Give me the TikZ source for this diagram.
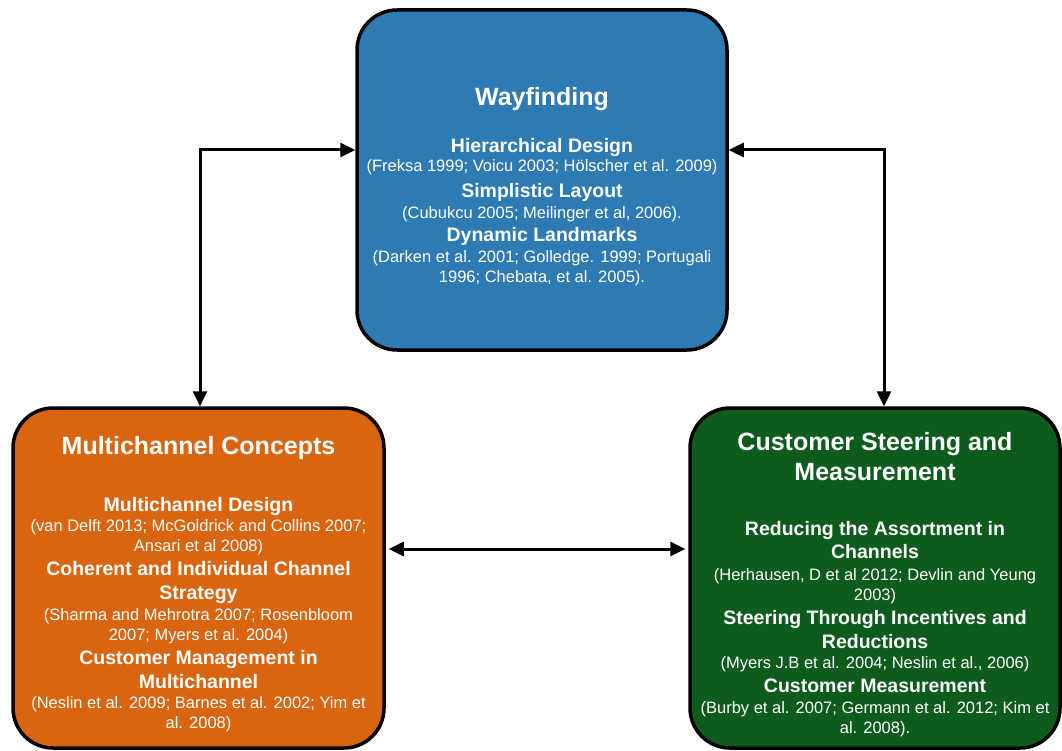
\documentclass[tikz,border=0pt]{standalone}
\usepackage{fontspec}
\setmainfont{Liberation Sans}
\usetikzlibrary{arrows.meta}

\definecolor{wayblue}{RGB}{46,122,179}
\definecolor{multiorange}{RGB}{218,101,16}
\definecolor{steergreen}{RGB}{14,91,30}

\tikzset{
  panel/.style={draw=black, line width=3.5pt, rounded corners=40pt,
    minimum width=370pt, minimum height=340pt, inner sep=0pt},
  ttl/.style={anchor=base, inner sep=0pt, text=white,
    font=\fontsize{25}{30}\selectfont\bfseries},
  hd/.style={anchor=base, inner sep=0pt, text=white,
    font=\fontsize{19.5}{23}\selectfont\bfseries},
  ct/.style={anchor=base, inner sep=0pt, text=white,
    font=\fontsize{16.5}{20}\selectfont},
  link/.style={line width=3pt, {Triangle[length=15pt,width=14pt]}-{Triangle[length=15pt,width=14pt]}}
}

\begin{document}
\begin{tikzpicture}[x=1pt, y=-1pt]
\useasboundingbox (0,0) rectangle (1062,751);

% panels
\node[panel, fill=wayblue] (way) at (542,180) {};
\node[panel, fill=multiorange, minimum width=371pt] (multi) at (198.5,578) {};
\node[panel, fill=steergreen] (steer) at (875,578) {};

% Wayfinding panel text
\node[ttl] (w0) at (542,106) {Wayfinding};
\node[hd] (w1) at (542,152.5) {Hierarchical Design};
\node[ct] (w2) at (542,172) {(Freksa 1999; Voicu 2003; Hölscher et al. 2009)};
\node[hd] (w3) at (542,197.5) {Simplistic Layout};
\node[ct] (w4) at (542,219) {(Cubukcu 2005; Meilinger et al, 2006).};
\node[hd] (w5) at (542,241.5) {Dynamic Landmarks};
\node[ct] (w6) at (542,262) {(Darken et al. 2001; Golledge. 1999; Portugali};
\node[ct] (w7) at (542,282) {1996; Chebata, et al. 2005).};

% Multichannel panel text
\node[ttl] (m0) at (198.5,454) {Multichannel Concepts};
\node[hd] (m1) at (198.5,511.5) {Multichannel Design};
\node[ct] (m2) at (198.5,531.5) {(van Delft 2013; McGoldrick and Collins 2007;};
\node[ct] (m3) at (198.5,551.5) {Ansari et al 2008)};
\node[hd] (m4) at (198.5,575) {Coherent and Individual Channel};
\node[hd] (m5) at (198.5,599) {Strategy};
\node[ct] (m6) at (198.5,620) {(Sharma and Mehrotra 2007; Rosenbloom};
\node[ct] (m7) at (198.5,640) {2007; Myers et al. 2004)};
\node[hd] (m8) at (198.5,664) {Customer Management in};
\node[hd] (m9) at (198.5,688) {Multichannel};
\node[ct] (m10) at (198.5,708) {(Neslin et al. 2009; Barnes et al. 2002; Yim et};
\node[ct] (m11) at (198.5,728) {al. 2008)};

% Steering panel text
\node[ttl] (s0) at (875,450.5) {Customer Steering and};
\node[ttl] (s1) at (875,480.5) {Measurement};
\node[hd] (s2) at (875,535) {Reducing the Assortment in};
\node[hd] (s3) at (875,558) {Channels};
\node[ct] (s4) at (875,580) {(Herhausen, D et al 2012; Devlin and Yeung};
\node[ct] (s5) at (875,600) {2003)};
\node[hd] (s6) at (875,624) {Steering Through Incentives and};
\node[hd] (s7) at (875,648) {Reductions};
\node[ct] (s8) at (875,668) {(Myers J.B et al. 2004; Neslin et al., 2006)};
\node[hd] (s9) at (875,692.5) {Customer Measurement};
\node[ct] (s10) at (875,713) {(Burby et al. 2007; Germann et al. 2012; Kim et};
\node[ct] (s11) at (875,733) {al. 2008).};

% connectors
\coordinate (lc) at (200,150);
\coordinate (rc) at (884,150);
\coordinate (mid) at (0,549);
\draw[link] (way.west |- lc) -- (lc) -- (lc |- multi.north);
\draw[link] (way.east |- rc) -- (rc) -- (rc |- steer.north);
\draw[link, shorten <=3pt, shorten >=3pt] (multi.east |- mid) -- (steer.west |- mid);
\end{tikzpicture}
\end{document}
